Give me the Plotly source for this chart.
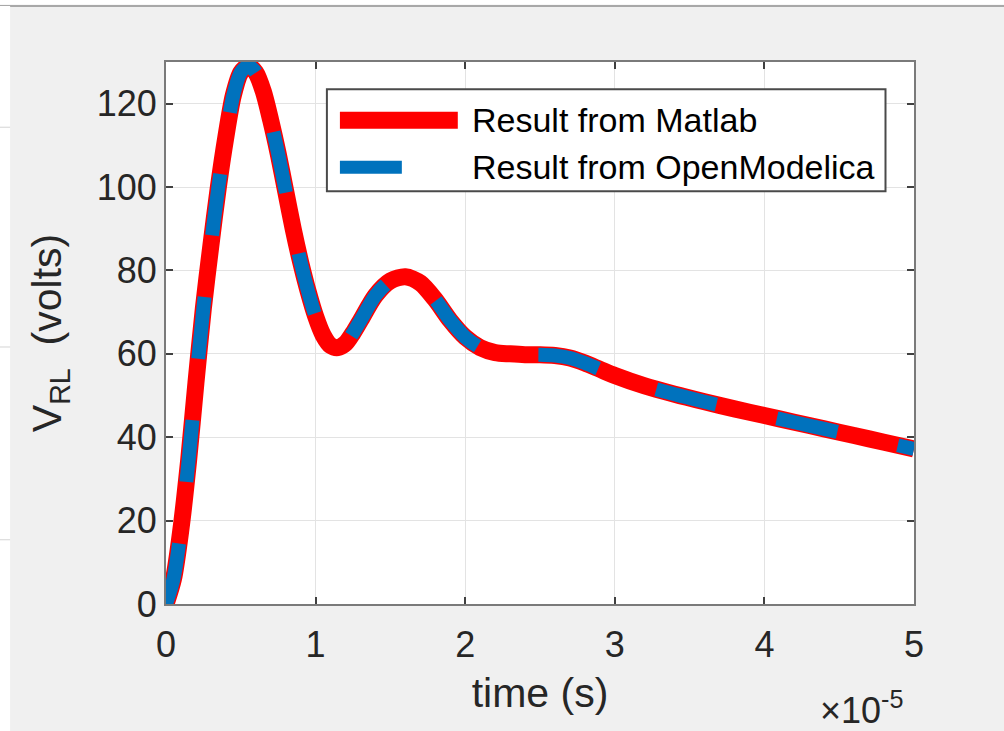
import plotly.graph_objects as go

# time in units of 1e-5 s
time_e5 = [0, 0.05, 0.1, 0.15, 0.2, 0.25, 0.3, 0.35, 0.4, 0.45, 0.5, 0.55, 0.6, 0.65,
           0.7, 0.75, 0.8, 0.85, 0.9, 0.95, 1.0, 1.05, 1.1, 1.15, 1.2, 1.25, 1.3, 1.4,
           1.5, 1.6, 1.7, 1.8, 1.9, 2.0, 2.1, 2.2, 2.3, 2.4, 2.5, 2.6, 2.7, 2.8, 2.9,
           3.0, 3.2, 3.4, 3.6, 3.8, 4.0, 4.2, 4.4, 4.6, 4.8, 5.0]
v_matlab = [0, 6, 18, 34, 53, 71, 86, 100, 112, 122, 127.5, 129, 127.5, 123,
            116, 108, 99, 90, 82, 75, 69, 64.5, 62, 61.5, 62.5, 65, 68, 74,
            77.5, 78.5, 77, 73, 68, 64, 61.5, 60.3, 60, 59.8, 59.8, 59.6, 59, 57.8, 56.3,
            54.8, 52.3, 50.3, 48.5, 46.8, 45.2, 43.6, 42, 40.4, 38.8, 37.2]
v_openmodelica = [0, 6, 18, 34, 53, 71, 86, 100, 112, 122, 127.5, 129, 127.5, 123,
                  116, 108, 99, 90, 82, 75, 69, 64.5, 62, 61.5, 62.5, 65, 68, 74,
                  77.5, 78.5, 77, 73, 68, 64, 61.5, 60.3, 60, 59.8, 59.8, 59.6, 59, 57.8, 56.3,
                  54.8, 52.3, 50.3, 48.5, 46.8, 45.2, 43.6, 42, 40.4, 38.8, 37.2]
series_names = ["Result from Matlab", "Result from OpenModelica"]
x_ticks = [0, 1, 2, 3, 4, 5]
y_ticks = [0, 20, 40, 60, 80, 100, 120]

RED = "#FF0000"
BLUE = "#0072BD"
FONT = "Liberation Sans, Arial, sans-serif"
TXT = "#262626"

fig = go.Figure()
fig.add_trace(go.Scatter(x=time_e5, y=v_matlab, mode="lines", name=series_names[0],
                         line=dict(color=RED, width=17, shape="spline", smoothing=0.8),
                         showlegend=False))
fig.add_trace(go.Scatter(x=time_e5, y=v_openmodelica, mode="lines", name=series_names[1],
                         line=dict(color=BLUE, width=14, shape="spline", smoothing=0.8,
                                   dash="62px,62px"),
                         showlegend=False))

axis_common = dict(showline=True, linecolor="#7a7a7a", linewidth=2, mirror="allticks",
                   ticks="inside", ticklen=7, tickwidth=2, tickcolor="#404040",
                   showgrid=True, gridcolor="#e3e3e3", gridwidth=1, zeroline=False,
                   tickfont=dict(family=FONT, size=36, color=TXT))

fig.update_xaxes(range=[0, 5], tickvals=x_ticks, ticktext=[str(v) for v in x_ticks],
                 ticklabelstandoff=8,
                 title=dict(text="time (s)", font=dict(family=FONT, size=41, color=TXT), standoff=14),
                 **axis_common)
fig.update_yaxes(range=[0, 130], tickvals=y_ticks, ticktext=[str(v) for v in y_ticks],
                 title=dict(text="V<sub>RL</sub>  (volts)", font=dict(family=FONT, size=41, color=TXT), standoff=22),
                 **axis_common)

# custom legend (paper coordinates)
shapes = [
    dict(type="rect", xref="paper", yref="paper", x0=0.2151, x1=0.9619, y0=0.7617, y1=0.9497,
         fillcolor="white", line=dict(color="#4a4a4a", width=2), layer="above"),
    dict(type="line", xref="paper", yref="paper", x0=0.2325, x1=0.3901, y0=0.8925, y1=0.8925,
         line=dict(color=RED, width=17), layer="above"),
    dict(type="line", xref="paper", yref="paper", x0=0.2325, x1=0.3153, y0=0.8058, y1=0.8058,
         line=dict(color=BLUE, width=13), layer="above"),
    # screenshot frame artifacts
    dict(type="rect", xref="paper", yref="paper", x0=-0.23, x1=1.2, y0=1.1063, y1=1.13,
         fillcolor="white", line=dict(width=0), layer="below"),
    dict(type="line", xref="paper", yref="paper", x0=-0.23, x1=1.2, y0=1.1035, y1=1.1035,
         line=dict(color="#a8a8a8", width=2), layer="below"),
    dict(type="rect", xref="paper", yref="paper", x0=-0.23, x1=-0.2084, y0=-0.25, y1=1.1035,
         fillcolor="white", line=dict(width=0), layer="below"),
]
for py in [127, 347, 540]:
    yp = (604.3 - py) / 542.6
    shapes.append(dict(type="line", xref="paper", yref="paper", x0=-0.23, x1=-0.2084, y0=yp, y1=yp,
                       line=dict(color="#d4d4d4", width=1), layer="below"))

annotations = [
    dict(xref="paper", yref="paper", x=0.4061, y=0.8925, xanchor="left", yanchor="middle",
         text=series_names[0], showarrow=False, font=dict(family=FONT, size=34, color="#000000")),
    dict(xref="paper", yref="paper", x=0.4061, y=0.8058, xanchor="left", yanchor="middle",
         text=series_names[1], showarrow=False, font=dict(family=FONT, size=34, color="#000000")),
    dict(xref="paper", yref="paper", x=0.988, y=-0.192, xanchor="right", yanchor="middle",
         text="×10<sup>-5</sup>", showarrow=False, font=dict(family=FONT, size=36, color=TXT)),
]

fig.update_layout(width=1004, height=731, autosize=False,
                  margin=dict(l=166, r=90, t=62, b=127),
                  paper_bgcolor="#f0f0f0", plot_bgcolor="white",
                  shapes=shapes, annotations=annotations, showlegend=False)

fig.write_html("out.html")
